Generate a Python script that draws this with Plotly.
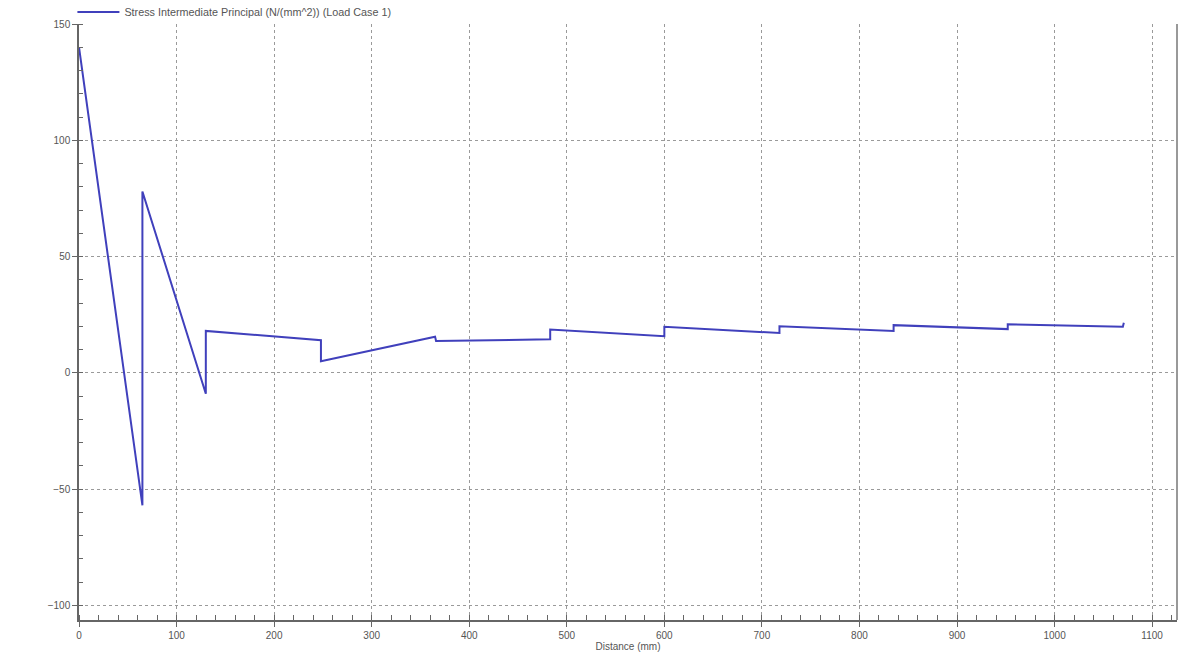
import plotly.graph_objects as go

# Data
distance_mm = [0, 65, 65, 130, 130, 248, 248, 365, 366, 483, 483, 600, 600,
               718, 718, 835, 835, 952, 952, 1070, 1071]
stress = [140, -57, 78, -9, 18, 14, 5, 15.5, 13.7, 14.4, 18.6, 15.7, 19.8,
          17.1, 20.0, 18.0, 20.5, 18.8, 20.9, 19.8, 21.5]
series_name = "Stress Intermediate Principal (N/(mm^2)) (Load Case 1)"
x_title = "Distance (mm)"

fig = go.Figure()
fig.add_trace(go.Scatter(
    x=distance_mm, y=stress, mode="lines", name=series_name,
    line=dict(color="#4040bc", width=2),
))

axis_font = dict(family="Liberation Sans, Arial, sans-serif", size=10, color="#555555")

fig.update_layout(
    width=1198, height=653,
    margin=dict(l=79, r=21, t=24, b=33, autoexpand=False),
    paper_bgcolor="white", plot_bgcolor="white",
    showlegend=True,
    legend=dict(x=-0.006, y=1 - 12 / 653, xanchor="left", yanchor="middle",
                xref="paper", yref="container",
                font=dict(family="Liberation Sans, Arial, sans-serif", size=10.8, color="#555555"),
                bgcolor="rgba(0,0,0,0)", borderwidth=0,
                tracegroupgap=0, itemwidth=42),
    font=axis_font,
)

fig.update_xaxes(
    range=[0, 1125.5], tickmode="array", tickvals=list(range(0, 1101, 100)),
    showgrid=True, gridcolor="#9a9a9a", griddash="dot", gridwidth=1,
    zeroline=False, showline=True, linecolor="#666666", linewidth=1.5,
    ticks="outside", ticklen=5, tickcolor="#666666",
    minor=dict(dtick=20, ticks="inside", ticklen=5, tickcolor="#666666", showgrid=False),
    tickfont=axis_font,
    title=dict(text=x_title, font=dict(family="Liberation Sans, Arial, sans-serif", size=10, color="#555555"), standoff=2),
)
fig.update_yaxes(
    range=[-106.3, 150], tickmode="array", tickvals=[-100, -50, 0, 50, 100, 150],
    showgrid=True, gridcolor="#9a9a9a", griddash="dot", gridwidth=1,
    zeroline=False, showline=True, linecolor="#666666", linewidth=1.5,
    ticks="outside", ticklen=5, tickcolor="#666666",
    minor=dict(dtick=10, ticks="inside", ticklen=4, tickcolor="#666666", showgrid=False),
    tickfont=axis_font,
)

fig.add_shape(type="line", xref="paper", yref="paper", x0=1, x1=1, y0=0, y1=1,
              line=dict(color="#777777", width=1.5))

fig.write_html(
    "out.html",
    config={"displayModeBar": False},
    post_script="document.body.style.margin='0';document.body.style.overflow='hidden';",
)
